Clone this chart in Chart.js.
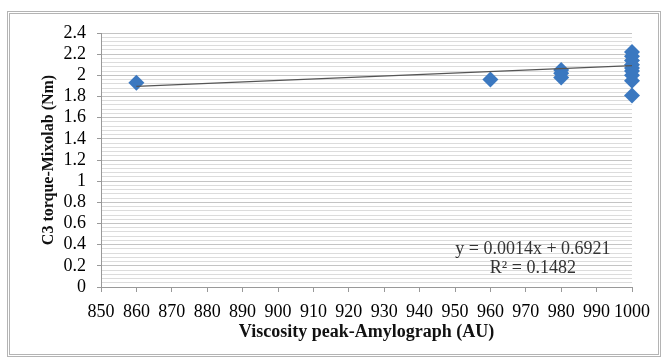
<!DOCTYPE html>
<html>
<head>
<meta charset="utf-8">
<script src="https://cdn.jsdelivr.net/npm/chart.js@4"></script>
<style>
  body { margin: 0; background: #fff; }
  #wrap { position: relative; width: 661px; height: 358px; }
  #frame { position: absolute; left: 7px; top: 11px; width: 648px; height: 340px; border: 3px double #b4b4b4; }
  canvas { position: absolute; left: 0; top: 0; }
</style>
</head>
<body>
<div id="wrap">
  <div id="frame"></div>
  <canvas id="c" width="661" height="358"></canvas>
</div>
<script>
// scatter points
const viscosity = [860, 960, 980, 980, 980, 1000, 1000, 1000, 1000, 1000, 1000, 1000, 1000, 1000];
const torque    = [1.93, 1.96, 2.05, 2.02, 1.98, 2.22, 2.18, 2.14, 2.10, 2.07, 2.04, 2.00, 1.95, 1.81];

// linear trend (from the printed equation)
const slope = 0.0014;
const intercept = 0.6921;
const rSquared = 0.1482;
const trendX = [860, 1000];

const points = viscosity.map((x, i) => ({ x: x, y: torque[i] }));
const trend = trendX.map(x => ({ x: x, y: slope * x + intercept }));

const serif = "'Liberation Serif', 'DejaVu Serif', serif";

const equationLabel = {
    id: "equationLabel",
    afterDatasetsDraw(chart) {
        const ctx = chart.ctx;
        const x = chart.scales.x.getPixelForValue(972);
        const y = chart.scales.y.getPixelForValue(0.355);
        ctx.save();
        ctx.fillStyle = "#333";
        ctx.font = "18px " + serif;
        ctx.textAlign = "center";
        ctx.textBaseline = "middle";
        ctx.fillText("y = " + slope.toFixed(4) + "x + " + intercept.toFixed(4), x, y);
        ctx.fillText("R\u00B2 = " + rSquared.toFixed(4), x, y + 19);
        ctx.restore();
    }
};

new Chart(document.getElementById("c").getContext("2d"), {
    type: "scatter",
    data: {
        datasets: [{
            data: points,
            pointStyle: "rectRot",
            pointRadius: 8,
            pointHoverRadius: 8,
            backgroundColor: "#3b78c0",
            borderColor: "#3b78c0",
            borderWidth: 0,
            clip: false,
            order: 2
        }, {
            type: "line",
            data: trend,
            borderColor: "#555",
            borderWidth: 1.2,
            pointRadius: 0,
            fill: false,
            order: 1
        }]
    },
    options: {
        responsive: false,
        animation: false,
        layout: { padding: { left: 39, top: 33, right: 29, bottom: 0 } },
        plugins: {
            legend: { display: false },
            tooltip: { enabled: false }
        },
        scales: {
            x: {
                type: "linear",
                min: 850,
                max: 1000,
                afterFit: s => { s.height = 71; },
                border: { color: "#999" },
                grid: { drawOnChartArea: false, tickLength: 5, color: "#999" },
                ticks: {
                    stepSize: 10,
                    autoSkip: false,
                    maxRotation: 0,
                    padding: 9,
                    color: "#000",
                    font: { family: serif, size: 18 },
                    callback: v => String(v)
                },
                title: {
                    display: true,
                    text: "Viscosity peak-Amylograph (AU)",
                    color: "#111",
                    font: { family: serif, size: 18, weight: "bold" },
                    padding: { top: 0, bottom: 15 }
                }
            },
            y: {
                min: 0,
                max: 2.4,
                afterFit: s => { s.width = 62; },
                border: { color: "#999" },
                grid: {
                    color: ctx => (Math.round(ctx.tick.value * 100) % 20 === 0 ? "#c4c4c4" : "#dcdcdc"),
                    tickColor: ctx => (Math.round(ctx.tick.value * 100) % 20 === 0 ? "#999" : "rgba(0,0,0,0)"),
                    tickLength: 4
                },
                ticks: {
                    stepSize: 0.04,
                    autoSkip: false,
                    padding: 11,
                    color: "#000",
                    font: { family: serif, size: 18 },
                    callback: v => (Math.round(v * 100) % 20 === 0 ? String(Math.round(v * 10) / 10) : "")
                },
                title: {
                    display: true,
                    text: "C3 torque-Mixolab (Nm)",
                    color: "#111",
                    font: { family: serif, size: 16, weight: "bold" },
                    padding: { top: 0, bottom: 0 }
                }
            }
        }
    },
    plugins: [equationLabel]
});
</script>
</body>
</html>
